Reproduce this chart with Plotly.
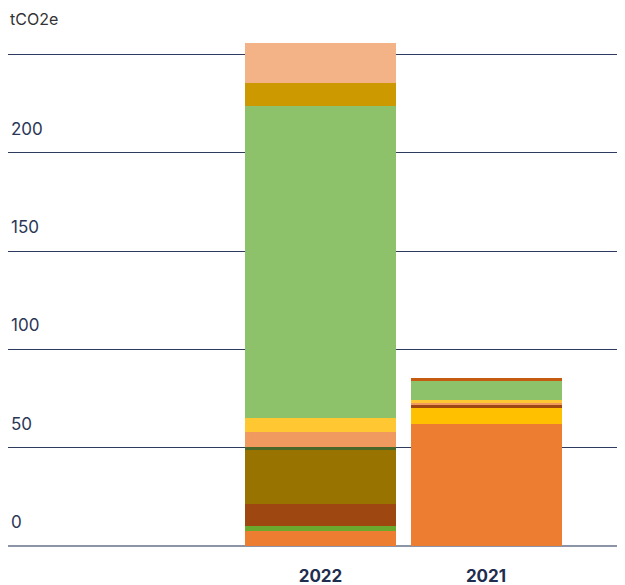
import plotly.graph_objects as go

years = ["2022", "2021"]

# stacked segments, bottom to top (tCO2e)
orange = [7.6, 62.0]
green_small = [2.5, 0.0]
amber = [0.0, 8.1]
rust = [11.2, 2.0]
olive = [27.4, 0.0]
dark_green = [1.5, 0.0]
salmon = [7.6, 1.0]
yellow = [7.1, 1.0]
green = [158.9, 10.2]
dark_orange = [0.0, 1.0]
gold = [11.8, 0.0]
peach = [20.2, 0.0]

y_ticks = [0, 50, 100, 150, 200, 250]
y_tick_text = ["0", "50", "100", "150", "200", ""]

series = [
    ("Orange", orange, "#ED7D31"),
    ("Green small", green_small, "#6AA82E"),
    ("Amber", amber, "#FFC000"),
    ("Rust", rust, "#9E4710"),
    ("Olive", olive, "#997300"),
    ("Dark green", dark_green, "#4B6727"),
    ("Salmon", salmon, "#F19A5F"),
    ("Yellow", yellow, "#FFC832"),
    ("Green", green, "#8DC26A"),
    ("Dark orange", dark_orange, "#C55A11"),
    ("Gold", gold, "#CC9900"),
    ("Peach", peach, "#F4B287"),
]

fig = go.Figure()
for name, vals, col in series:
    fig.add_trace(go.Bar(x=years, y=vals, name=name, marker={"color": col, "line": {"width": 0}}))

# page body adds an 8px offset, so margins are measured from there
fig.update_layout(
    barmode="stack",
    bargap=0.088,
    width=625,
    height=585,
    margin={"l": 0, "r": 0, "t": 27, "b": 47, "autoexpand": False},
    plot_bgcolor="white",
    paper_bgcolor="white",
    showlegend=False,
    font={"family": "Inter, sans-serif", "color": "#2B3656", "size": 14},
)
fig.update_xaxes(
    type="category",
    range=[-1.888, 1.888],
    automargin=False,
    showgrid=False,
    showline=False,
    ticks="",
    ticklabelstandoff=18,
    tickfont={"size": 17, "color": "#1F2D4E", "weight": "bold"},
)
fig.update_yaxes(
    range=[0, 260],
    automargin=False,
    tickvals=y_ticks,
    ticktext=y_tick_text,
    showgrid=True,
    gridcolor="#2D3B5E",
    gridwidth=1.3,
    zeroline=True,
    zerolinecolor="#8C95A8",
    zerolinewidth=2,
    ticks="",
    ticklabelposition="inside",
    ticklabelshift=-24,
    ticklabelstandoff=0,
    tickfont={"size": 17, "color": "#2B3656"},
)
fig.add_annotation(
    text="tCO2e", xref="paper", yref="paper", x=0, y=1, xanchor="left", yanchor="middle",
    yshift=16, showarrow=False, font={"size": 16, "color": "#333333"},
)

fig.write_html("out.html")
